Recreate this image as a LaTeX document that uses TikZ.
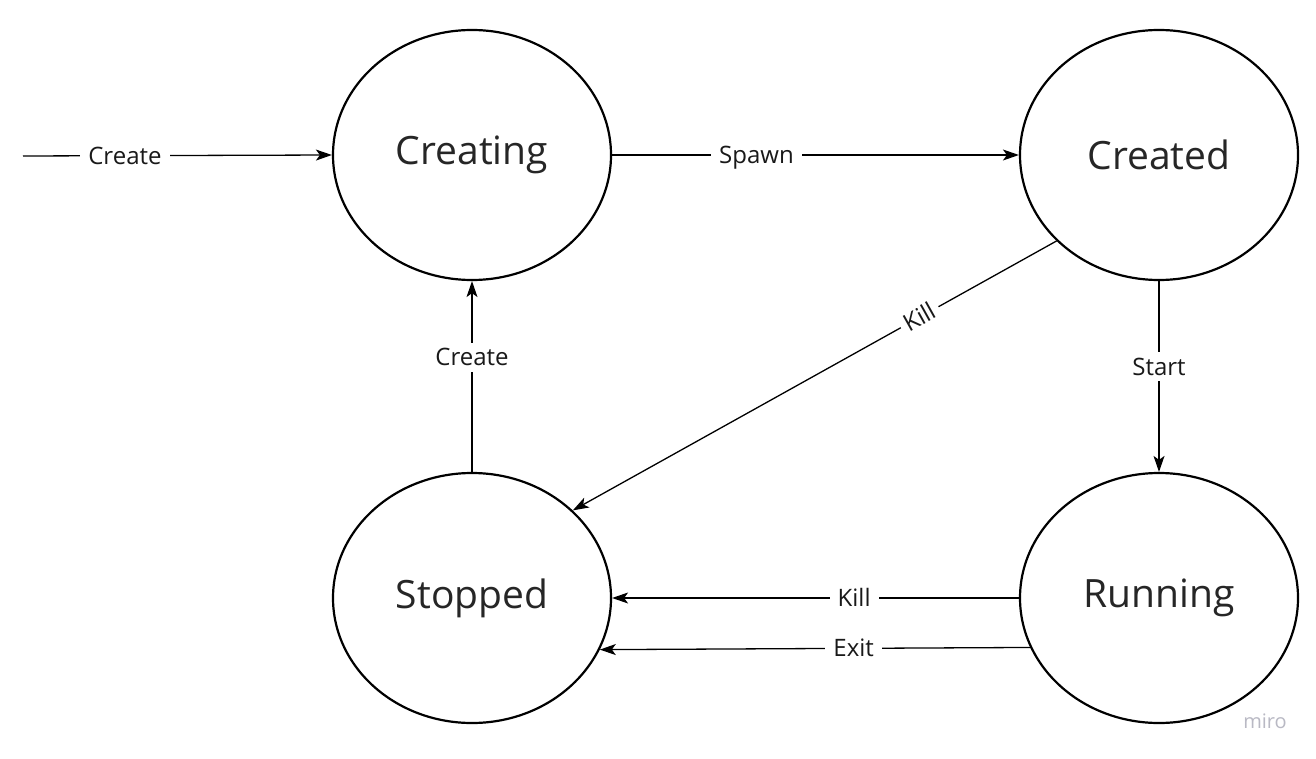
\documentclass[tikz,border=0pt]{standalone}
\usepackage{fontspec}
\setmainfont{Open Sans}
\usetikzlibrary{shapes.geometric,arrows.meta}
\definecolor{miroGray}{RGB}{185,185,196}
\begin{document}
\begin{tikzpicture}[x=1pt,y=-1pt,
  state/.style={ellipse,draw,line width=2.2pt,minimum width=278pt,minimum height=250pt,inner sep=0pt,font=\fontsize{39}{41}\selectfont,text=black!85},
  trans/.style={line width=1.3pt,-{Stealth[length=16pt,width=11pt,inset=4pt]}},
  lbl/.style={fill=white,inner sep=8pt,text height=17pt,text depth=0pt,font=\fontsize{24}{26}\selectfont,text=black!90}]
\fill[white] (0,0) rectangle (1316,759);
\useasboundingbox (0,0) rectangle (1316,759);
\node[state] (creating) at (472,155) {Creating};
\node[state] (created) at (1159,155) {Created};
\node[state] (stopped) at (472,598) {Stopped};
\node[state] (running) at (1159,598) {Running};
\coordinate (entry) at (23,156);
\draw[trans] (entry) -- node[lbl,pos=0.33] {Create} (creating.west);
\draw[trans] (creating.east) -- node[lbl,pos=0.355] {Spawn} (created.west);
\draw[trans] (created.220.8) -- node[lbl,pos=0.283,sloped,inner sep=5pt] {Kill} (stopped.41.1);
\draw[trans] (created.south) -- node[lbl,pos=0.45,inner sep=6pt] {Start} (running.north);
\draw[trans] (stopped.north) -- node[lbl,pos=0.6,inner sep=6pt] {Create} (creating.south);
\draw[trans] (running.west) -- node[lbl,pos=0.405] {Kill} (stopped.east);
\draw[trans] (running.201.5) -- node[lbl,pos=0.41] {Exit} (stopped.338.5);
\node[font=\fontsize{20}{22}\selectfont,text=miroGray] (miro) at (1265,721) {miro};
\end{tikzpicture}
\end{document}
